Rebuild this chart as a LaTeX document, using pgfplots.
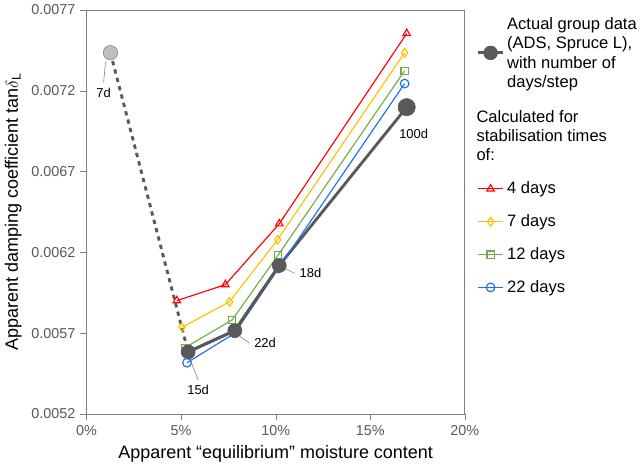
\documentclass[border=0pt]{standalone}
\usepackage{pgfplots}
\pgfplotsset{compat=1.18}
\usepackage{fontspec}
\setmainfont{Liberation Sans}
\definecolor{cred}{RGB}{255,0,0}
\definecolor{corange}{RGB}{255,192,0}
\definecolor{cgreen}{RGB}{112,173,71}
\definecolor{cblue}{RGB}{30,110,240}
\definecolor{cgray}{RGB}{89,89,89}
\begin{document}
\begin{tikzpicture}
\begin{axis}[
  scale only axis, width=262bp, height=280bp,
  xmin=0, xmax=20, ymin=0.0052, ymax=0.0077,
  xtick={0,5,10,15,20}, xticklabels={0\%,5\%,10\%,15\%,20\%},
  ytick={0.0052,0.0057,0.0062,0.0067,0.0072,0.0077},
  yticklabel style={/pgf/number format/fixed,/pgf/number format/precision=4,/pgf/number format/fixed zerofill},
  scaled y ticks=false,
  /pgf/number format/assume math mode=true,
  tick label style={font=\fontsize{10}{12}\selectfont, color=cgray},
  xlabel={Apparent “equilibrium” moisture content},
  ylabel={Apparent damping coefficient tan$\delta_{\mathrm{L}}$},
  label style={font=\fontsize{12.5}{14}\selectfont},
  tick align=outside, tick pos=left,
  axis line style={gray},
  legend style={draw=none, at={(1.02,1.0)}, anchor=north west, font=\fontsize{11.5}{13.5}\selectfont, row sep=9pt},
  legend cell align=left,
]
\addplot[cgray, line width=2pt, mark=*, mark size=4pt, mark options={solid, fill=cgray}] coordinates {(5.37,0.005584) (7.84,0.005716) (10.19,0.006119) (16.93,0.007098)};
\addlegendentry{\begin{tabular}[b]{@{}l@{}}Actual group data\\(ADS, Spruce L),\\with number of\\days/step\end{tabular}}
\addlegendimage{empty legend}
\addlegendentry{\hspace*{-0.75cm}\begin{tabular}[b]{@{}l@{}}Calculated for\\stabilisation times\\of:\end{tabular}}
\addplot[cred, thick, mark=triangle, mark size=3pt] coordinates {(4.77,0.005901) (7.34,0.0060) (10.19,0.006377) (16.93,0.007554)};
\addlegendentry{4 days}
\addplot[corange, thick, mark=diamond, mark size=3pt] coordinates {(5.04,0.005736) (7.56,0.005894) (10.1,0.006278) (16.82,0.007435)};
\addlegendentry{7 days}
\addplot[cgreen, thick, mark=square, mark size=2.5pt] coordinates {(5.2,0.00561) (7.7,0.005782) (10.14,0.006185) (16.82,0.007323)};
\addlegendentry{12 days}
\addplot[cblue, thick, mark=o, mark size=3pt] coordinates {(5.31,0.005517) (7.84,0.0057) (10.14,0.0061) (16.82,0.007244)};
\addlegendentry{22 days}
\addplot[cgray, line width=2pt, dashed, forget plot] coordinates {(1.26,0.007435) (5.37,0.005584)};
\addplot[only marks, mark=*, mark size=5pt, mark options={draw=gray, fill=lightgray}, forget plot] coordinates {(1.26,0.007435)};
\addplot[cgray, line width=2pt, mark=*, mark size=4pt, mark options={fill=cgray}, forget plot] coordinates {(5.37,0.005584) (7.84,0.005716) (10.19,0.006119)};
\addplot[only marks, mark=*, mark size=6pt, mark options={draw=cgray, fill=cgray}, forget plot] coordinates {(16.93,0.007098)};
\draw[gray] (axis cs:1.0,0.00738) -- (axis cs:0.9,0.00725) node[below, font=\fontsize{9}{10}\selectfont, text=black] {7d};
\draw[gray] (axis cs:5.5,0.00553) -- (axis cs:5.9,0.00541) node[below, font=\fontsize{9}{10}\selectfont, text=black] {15d};
\draw[gray] (axis cs:8.1,0.00568) -- (axis cs:8.6,0.00564) node[right, font=\fontsize{9}{10}\selectfont, text=black] {22d};
\draw[gray] (axis cs:10.5,0.00610) -- (axis cs:11.0,0.00607) node[right, font=\fontsize{9}{10}\selectfont, text=black] {18d};
\node[font=\fontsize{9}{10}\selectfont] at (axis cs:17.3,0.00693) {100d};
\end{axis}
\end{tikzpicture}
\end{document}
